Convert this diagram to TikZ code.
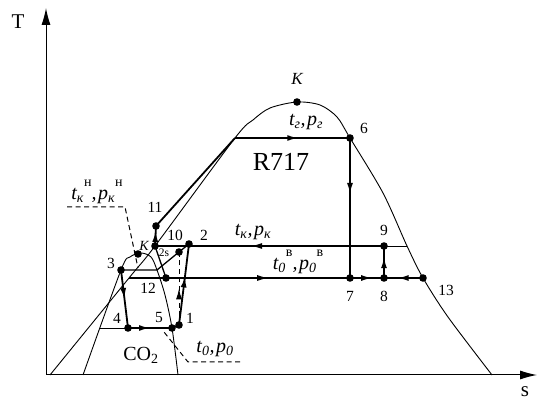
\documentclass[tikz,border=0pt]{standalone}
\usepackage{fontspec}
\setmainfont{Liberation Serif}
\usetikzlibrary{arrows.meta,decorations.markings}
\newcommand\hsup[1]{\raisebox{0.62em}{\fontsize{14}{14}\selectfont\upshape #1}}
\begin{document}
\begin{tikzpicture}[x=1pt,y=-1pt,
  dome/.style={line width=0.9pt},
  cyc/.style={line width=1.8pt},
  med/.style={line width=1.3pt},
  dsh/.style={line width=1pt,dash pattern=on 5pt off 3.5pt},
  arr/.style={postaction={decorate},decoration={markings,mark=at position #1 with {\arrow{Latex[length=11pt,width=6pt]}}}},
  arr/.default=0.55,
  axis/.style={line width=1pt,-{Latex[length=17pt,width=9pt]}},
  lab/.style={inner sep=0pt,font=\fontsize{15.5}{15.5}\selectfont},
  tlab/.style={inner sep=0pt,font=\fontsize{20}{20}\selectfont\itshape}]
\useasboundingbox (0,0) rectangle (539,403);
% axes
\coordinate (O) at (46,375);
\coordinate (Ty) at (46,8);
\coordinate (Sx) at (537,375);
\draw[axis] (O) -- (Ty);
\draw[axis] (O) -- (Sx);
% points
\coordinate (p1) at (179,325);
\coordinate (p2) at (189,244);
\coordinate (p2s) at (179,252);
\coordinate (p3) at (121,270);
\coordinate (p4) at (128,328);
\coordinate (p5) at (172,328);
\coordinate (p6) at (350,138);
\coordinate (p7) at (350,278);
\coordinate (p8) at (384,278);
\coordinate (p9) at (384,246);
\coordinate (p10) at (155,246);
\coordinate (p11) at (156,226);
\coordinate (p12) at (166,278);
\coordinate (p13) at (423,278);
\coordinate (kA) at (297,102);
\coordinate (kC) at (138,254);
\coordinate (a) at (235,138);
\coordinate (v9) at (407,246);
\coordinate (l12) at (129,278);
\coordinate (c3) at (157,270);
\coordinate (l4) at (100,328);
% domes
\draw[dome] plot[smooth,tension=0.5] coordinates {(50,375) (129,278) (155,246) (235,138) (253,120) (270,108) (297,102) (320,105) (337,117) (350,138) (383,193) (407,246) (423,278) (448,317) (492,375)};
\draw[dome] plot[smooth,tension=0.5] coordinates {(83,375) (121,270) (130,257) (141,253) (151,257) (157,270) (165,295) (172,328) (178,375)};
% cycle lines
\draw[dome] (l4) -- (p4);
\draw[cyc,arr=0.5] (p3) -- (p4);
\draw[cyc,arr=0.5] (p4) -- (p5);
\draw[cyc] (p5) -- (p1);
\draw[cyc,arr=0.6] (p1) -- (p2);
\draw[dsh,arr=0.5] (p1) -- (p2s);
\draw[med] (p2) -- (p2s) -- (c3) -- (p3);
\draw[cyc,arr=0.75] (p10) -- (p11);
\draw[cyc] (p11) -- (a);
\draw[cyc,arr=0.55] (a) -- (p6);
\draw[cyc,arr=0.4] (p6) -- (p7);
\draw[med] (p10) -- (p12);
\draw[dome] (v9) -- (p9);
\draw[med,arr=0.58] (p9) -- (p10);
\draw[med,arr=0.63] (l12) -- (p7);
\draw[cyc,arr=0.65] (p7) -- (p8);
\draw[cyc,arr=0.65] (p13) -- (p8);
\draw[cyc,arr=0.65] (p8) -- (p9);
% dashed leaders
\coordinate (da1) at (240,362);
\coordinate (da2) at (188,362);
\coordinate (da3) at (164,332);
\draw[dsh] (da1) -- (da2) -- (da3);
\coordinate (db1) at (67,207);
\coordinate (db2) at (125,207);
\coordinate (db3) at (138,268);
\draw[dsh] (db1) -- (db2) -- (db3);
% dots
\foreach \p in {p1,p2,p2s,p3,p4,p5,p6,p7,p8,p9,p10,p11,p12,p13,kA,kC}
  \fill (\p) circle (3.8pt);
% labels
\node[inner sep=0pt,font=\fontsize{21}{21}\selectfont] (lT) at (18,22) {T};
\node[inner sep=0pt,font=\fontsize{21}{21}\selectfont] (ls) at (525,392) {s};
\node[lab,font=\fontsize{17}{17}\selectfont\itshape] (lKA) at (297,79) {К};
\node[lab,font=\fontsize{14}{14}\selectfont\itshape] (lKC) at (144,246) {К};
\node[lab] (l6) at (364,128) {6};
\node[lab] (l9) at (384,230) {9};
\node[lab] (l7) at (350,296) {7};
\node[lab] (l8) at (384,296) {8};
\node[lab] (l13) at (446,290) {13};
\node[lab] (l2) at (204,235) {2};
\node[lab] (l10) at (175,235) {10};
\node[lab] (l11) at (155,207) {11};
\node[lab,font=\fontsize{11.5}{11.5}\selectfont] (l2s) at (164,253) {2s};
\node[lab] (l3) at (111,263) {3};
\node[lab] (l12t) at (148,288) {12};
\node[lab] (l4t) at (117,318) {4};
\node[lab] (l5t) at (159,318) {5};
\node[lab] (l1t) at (190,318) {1};
\node[inner sep=0pt,font=\fontsize{20}{20}\selectfont] (lCO) at (141,355) {CO\textsubscript{2}};
\node[inner sep=0pt,font=\fontsize{26}{26}\selectfont] (lR) at (281,162) {R717};
\node[tlab] (ltg) at (306,122) {t\textsubscript{г},\kern1.5pt p\textsubscript{г}};
\node[tlab] (ltk) at (253,232) {t\textsubscript{к},\kern1.5pt p\textsubscript{к}};
\node[tlab] (lt0b) at (298,262) {t\textsubscript{0}\hsup{в},\kern1.5pt p\textsubscript{0}\hsup{в}};
\node[tlab] (lt0) at (215,349) {t\textsubscript{0},\kern1.5pt p\textsubscript{0}};
\node[tlab] (ltkn) at (97,192) {t\textsubscript{к}\hsup{н},\kern1.5pt p\textsubscript{к}\hsup{н}};
\end{tikzpicture}
\end{document}
